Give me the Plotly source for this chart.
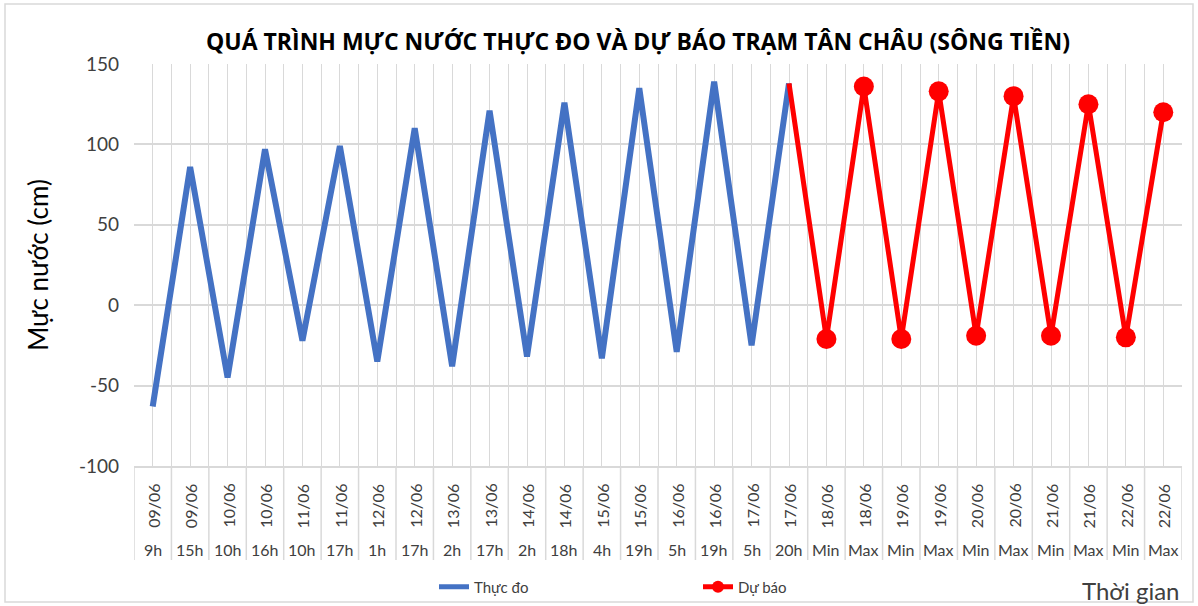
import plotly.graph_objects as go

dates = ["09/06", "09/06", "10/06", "10/06", "11/06", "11/06", "12/06", "12/06",
         "13/06", "13/06", "14/06", "14/06", "15/06", "15/06", "16/06", "16/06",
         "17/06", "17/06", "18/06", "18/06", "19/06", "19/06", "20/06", "20/06",
         "21/06", "21/06", "22/06", "22/06"]
hours = ["9h", "15h", "10h", "16h", "10h", "17h", "1h", "17h", "2h", "17h", "2h", "18h",
         "4h", "19h", "5h", "19h", "5h", "20h", "Min", "Max", "Min", "Max", "Min", "Max",
         "Min", "Max", "Min", "Max"]
observed = [-63, 86, -45, 97, -22, 99, -35, 110, -38, 121, -32, 126, -33, 135, -29, 139,
            -25, 138]
forecast = [138, -21, 136, -21, 133, -19, 130, -19, 125, -20, 120]
y_ticks = [-100, -50, 0, 50, 100, 150]

n = len(dates)
obs_x = list(range(len(observed)))
fc_x = list(range(len(observed) - 1, n))

FONT = "Lato, 'Open Sans', sans-serif"
GRID = "#d9d9d9"

fig = go.Figure()
fig.add_trace(go.Scatter(
    x=obs_x, y=observed, mode="lines", name="Thực đo",
    line=dict(color="#4472C4", width=6), hoverinfo="y"))
fig.add_trace(go.Scatter(
    x=fc_x, y=forecast, mode="lines+markers", name="Dự báo",
    line=dict(color="#FF0000", width=5),
    marker=dict(color="#FF0000", opacity=1, line=dict(width=0),
                size=[0] + [20] * (len(forecast) - 1)),
    hoverinfo="y"))

plot_h = 402.0
annotations = []
shapes = []
for i in range(n):
    annotations.append(dict(x=i, y=-40 / plot_h, xref="x", yref="paper", text=dates[i],
                            textangle=-90, showarrow=False, xanchor="center", yanchor="middle",
                            font=dict(size=16, color="#404040", family=FONT)))
    annotations.append(dict(x=i, y=-83 / plot_h, xref="x", yref="paper", text=hours[i],
                            showarrow=False, xanchor="center", yanchor="middle",
                            font=dict(size=16, color="#404040", family=FONT)))
for i in range(n + 1):
    shapes.append(dict(type="line", xref="x", yref="paper", x0=i - 0.5, x1=i - 0.5,
                       y0=0, y1=-94 / plot_h, line=dict(color=GRID, width=1.5)))

annotations.append(dict(text="Thời gian", xref="paper", yref="paper", x=1.0, y=-124 / plot_h,
                        xanchor="right", yanchor="middle", showarrow=False,
                        font=dict(size=24, color="#404040", family=FONT)))

# outer chart border
shapes.append(dict(type="rect", xref="paper", yref="paper",
                   x0=-129 / 1048, x1=1 + 11 / 1048, y0=-136 / plot_h, y1=1 + 60 / plot_h,
                   line=dict(color="#d9d9d9", width=1.5)))

fig.update_layout(
    width=1198, height=606,
    margin=dict(l=134, r=16, t=64, b=140, autoexpand=False),
    paper_bgcolor="white", plot_bgcolor="white",
    font=dict(family=FONT, color="#404040"),
    title=dict(text="<b>QUÁ TRÌNH MỰC NƯỚC THỰC ĐO VÀ DỰ BÁO TRẠM TÂN CHÂU (SÔNG TIỀN)</b>",
               x=638 / 1198, xanchor="center", y=1 - 42 / 606, yanchor="middle",
               font=dict(size=23, color="#000000", family="'Open Sans', sans-serif")),
    xaxis=dict(range=[-0.5, n - 0.5], tick0=-0.5, dtick=0.5, showgrid=True,
               gridcolor=GRID, gridwidth=1, showticklabels=False, zeroline=False,
               showline=True, linecolor=GRID, linewidth=1.5, mirror=False, ticks=""),
    yaxis=dict(range=[-100, 150], tickvals=y_ticks, ticktext=[str(v) for v in y_ticks],
               showgrid=True, gridcolor=GRID, gridwidth=1.5,
               zeroline=False, showline=False, ticks="", ticklabelstandoff=14,
               tickfont=dict(size=19, color="#404040", family=FONT),
               title=dict(text="Mực nước (cm)", standoff=22,
                          font=dict(size=26, color="#000000", family=FONT))),
    legend=dict(orientation="h", x=(434 - 134) / 1048, xanchor="left",
                yref="container", y=1 - 587 / 606, yanchor="middle", entrywidth=219,
                itemsizing="constant",
                font=dict(size=15, color="#404040", family=FONT),
                bgcolor="rgba(0,0,0,0)"),
    showlegend=True,
    annotations=annotations,
    shapes=shapes,
)

fig.write_html("out.html", config={"displayModeBar": False},
               post_script="document.body.style.margin='0';document.body.style.overflow='hidden';")
